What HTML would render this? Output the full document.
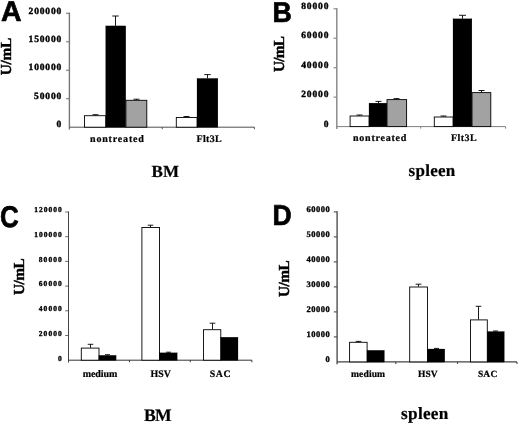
<!DOCTYPE html>
<html><head><meta charset="utf-8"><title>Figure</title>
<style>html,body{margin:0;padding:0;background:#fff}svg{display:block}</style>
</head><body>
<svg width="520" height="426" viewBox="0 0 520 426">
<defs><filter id="soft" x="0" y="0" width="520" height="426" filterUnits="userSpaceOnUse"><feGaussianBlur stdDeviation="0.38"/></filter></defs>
<rect width="520" height="426" fill="#fff"/>
<g filter="url(#soft)">
<g font-family="'Liberation Serif', serif" font-weight="bold" fill="#000" stroke="#000" stroke-width="0.22" text-rendering="geometricPrecision">
<path d="M69.4 12.600000000000001V129.6" stroke="#777" stroke-width="1.4" fill="none"/>
<path d="M69.4 127.2H254.4" stroke="#505050" stroke-width="1.0" fill="none"/>
<text x="61.30" y="127.41" font-size="9.5" text-anchor="end" stroke-width="0.4">0</text>
<path d="M66.10000000000001 98.72H69.4" stroke="#777" stroke-width="1.12"/>
<text x="61.30" y="98.94" font-size="9.5" text-anchor="end" textLength="27.2" lengthAdjust="spacing" stroke-width="0.4">50000</text>
<path d="M66.10000000000001 70.25H69.4" stroke="#777" stroke-width="1.12"/>
<text x="61.30" y="70.46" font-size="9.5" text-anchor="end" textLength="32.7" lengthAdjust="spacing" stroke-width="0.4">100000</text>
<path d="M66.10000000000001 41.77H69.4" stroke="#777" stroke-width="1.12"/>
<text x="61.30" y="41.99" font-size="9.5" text-anchor="end" textLength="32.7" lengthAdjust="spacing" stroke-width="0.4">150000</text>
<path d="M66.10000000000001 13.30H69.4" stroke="#777" stroke-width="1.12"/>
<text x="61.30" y="13.51" font-size="9.5" text-anchor="end" textLength="32.7" lengthAdjust="spacing" stroke-width="0.4">200000</text>
<path d="M162.2 127.2V129.2" stroke="#505050" stroke-width="1.0"/>
<path d="M254.4 127.2V129.2" stroke="#505050" stroke-width="1.0"/>
<rect x="84.50" y="115.70" width="21.30" height="11.50" fill="#fff" stroke="#000" stroke-width="0.9"/>
<rect x="105.70" y="25.90" width="20.10" height="101.50" fill="#000"/>
<rect x="125.90" y="100.30" width="20.90" height="26.90" fill="#a2a2a2" stroke="#000" stroke-width="0.9"/>
<rect x="176.30" y="117.50" width="20.80" height="9.70" fill="#fff" stroke="#000" stroke-width="0.9"/>
<rect x="197.00" y="78.40" width="20.90" height="49.00" fill="#000"/>
<path d="M115.50 25.90V16.00M112.25 16.00H118.75" stroke="#000" stroke-width="0.9" fill="none"/>
<path d="M136.50 100.00V99.20M133.50 99.20H139.50" stroke="#000" stroke-width="0.9" fill="none"/>
<path d="M95.50 115.40V114.70M92.50 114.70H98.50" stroke="#000" stroke-width="0.9" fill="none"/>
<path d="M186.50 117.20V116.50M183.50 116.50H189.50" stroke="#000" stroke-width="0.9" fill="none"/>
<path d="M207.50 78.40V74.60M204.25 74.60H210.75" stroke="#000" stroke-width="0.9" fill="none"/>
<text x="90.00" y="141.50" font-size="10" text-anchor="start" textLength="53.9" lengthAdjust="spacing">nontreated</text>
<text x="196.60" y="141.50" font-size="10" text-anchor="start" textLength="25.1" lengthAdjust="spacing">Flt3L</text>
<text x="151.60" y="176.60" font-size="17.0" text-anchor="start" textLength="27.4" lengthAdjust="spacing">BM</text>
<path d="M336.8 8.05V129.0" stroke="#8c8c8c" stroke-width="1.5" fill="none"/>
<path d="M336.8 126.6H505.6" stroke="#808080" stroke-width="1.0" fill="none"/>
<text x="328.50" y="126.61" font-size="9.5" text-anchor="end" stroke-width="0.4">0</text>
<path d="M333.5 97.15H336.8" stroke="#8c8c8c" stroke-width="1.20"/>
<text x="328.50" y="97.16" font-size="9.5" text-anchor="end" textLength="27.3" lengthAdjust="spacing" stroke-width="0.4">20000</text>
<path d="M333.5 67.70H336.8" stroke="#8c8c8c" stroke-width="1.20"/>
<text x="328.50" y="67.71" font-size="9.5" text-anchor="end" textLength="27.3" lengthAdjust="spacing" stroke-width="0.4">40000</text>
<path d="M333.5 38.25H336.8" stroke="#8c8c8c" stroke-width="1.20"/>
<text x="328.50" y="38.26" font-size="9.5" text-anchor="end" textLength="27.3" lengthAdjust="spacing" stroke-width="0.4">60000</text>
<path d="M333.5 8.80H336.8" stroke="#8c8c8c" stroke-width="1.20"/>
<text x="328.50" y="8.81" font-size="9.5" text-anchor="end" textLength="27.3" lengthAdjust="spacing" stroke-width="0.4">80000</text>
<path d="M420.7 126.6V128.6" stroke="#808080" stroke-width="1.0"/>
<path d="M505.6 126.6V128.6" stroke="#808080" stroke-width="1.0"/>
<rect x="350.10" y="116.00" width="19.00" height="10.60" fill="#fff" stroke="#000" stroke-width="0.9"/>
<rect x="369.00" y="103.10" width="17.90" height="23.70" fill="#000"/>
<rect x="387.00" y="99.60" width="19.60" height="27.00" fill="#a2a2a2" stroke="#000" stroke-width="0.9"/>
<rect x="434.30" y="117.00" width="18.80" height="9.60" fill="#fff" stroke="#000" stroke-width="0.9"/>
<rect x="453.00" y="18.80" width="18.90" height="108.00" fill="#000"/>
<rect x="472.00" y="92.60" width="18.80" height="34.00" fill="#a2a2a2" stroke="#000" stroke-width="0.9"/>
<path d="M359.50 115.70V115.00M356.50 115.00H362.50" stroke="#000" stroke-width="0.9" fill="none"/>
<path d="M378.50 103.10V101.40M375.50 101.40H381.50" stroke="#000" stroke-width="0.9" fill="none"/>
<path d="M396.50 99.30V98.60M393.50 98.60H399.50" stroke="#000" stroke-width="0.9" fill="none"/>
<path d="M443.50 116.70V116.00M440.50 116.00H446.50" stroke="#000" stroke-width="0.9" fill="none"/>
<path d="M462.50 18.80V15.30M459.00 15.30H466.00" stroke="#000" stroke-width="0.9" fill="none"/>
<path d="M481.50 92.30V90.50M478.50 90.50H484.50" stroke="#000" stroke-width="0.9" fill="none"/>
<text x="353.00" y="141.00" font-size="10" text-anchor="start" textLength="53.3" lengthAdjust="spacing">nontreated</text>
<text x="451.00" y="141.00" font-size="10" text-anchor="start" textLength="25.7" lengthAdjust="spacing">Flt3L</text>
<text x="408.60" y="175.90" font-size="17" text-anchor="start" textLength="46.7" lengthAdjust="spacing">spleen</text>
<path d="M68.5 211.5V362.59999999999997" stroke="#444" stroke-width="1.0" fill="none"/>
<path d="M68.5 360.2H251.9" stroke="#333" stroke-width="1.0" fill="none"/>
<text x="61.70" y="360.54" font-size="7.5" text-anchor="end" stroke-width="0.33">0</text>
<path d="M65.2 335.50H68.5" stroke="#444" stroke-width="0.80"/>
<text x="61.70" y="335.84" font-size="7.5" text-anchor="end" textLength="22.9" lengthAdjust="spacing" stroke-width="0.33">20000</text>
<path d="M65.2 310.80H68.5" stroke="#444" stroke-width="0.80"/>
<text x="61.70" y="311.14" font-size="7.5" text-anchor="end" textLength="22.9" lengthAdjust="spacing" stroke-width="0.33">40000</text>
<path d="M65.2 286.10H68.5" stroke="#444" stroke-width="0.80"/>
<text x="61.70" y="286.44" font-size="7.5" text-anchor="end" textLength="22.9" lengthAdjust="spacing" stroke-width="0.33">60000</text>
<path d="M65.2 261.40H68.5" stroke="#444" stroke-width="0.80"/>
<text x="61.70" y="261.74" font-size="7.5" text-anchor="end" textLength="22.9" lengthAdjust="spacing" stroke-width="0.33">80000</text>
<path d="M65.2 236.70H68.5" stroke="#444" stroke-width="0.80"/>
<text x="61.70" y="237.03" font-size="7.5" text-anchor="end" textLength="27.4" lengthAdjust="spacing" stroke-width="0.33">100000</text>
<path d="M65.2 212.00H68.5" stroke="#444" stroke-width="0.80"/>
<text x="61.70" y="212.34" font-size="7.5" text-anchor="end" textLength="27.4" lengthAdjust="spacing" stroke-width="0.33">120000</text>
<path d="M129.4 360.2V362.2" stroke="#333" stroke-width="1.0"/>
<path d="M190.3 360.2V362.2" stroke="#333" stroke-width="1.0"/>
<path d="M251.9 360.2V362.2" stroke="#333" stroke-width="1.0"/>
<rect x="81.30" y="348.10" width="17.70" height="12.10" fill="#fff" stroke="#000" stroke-width="0.9"/>
<rect x="98.90" y="355.30" width="17.20" height="5.10" fill="#000"/>
<rect x="141.90" y="227.50" width="17.60" height="132.70" fill="#fff" stroke="#000" stroke-width="0.9"/>
<rect x="159.40" y="352.80" width="17.80" height="7.60" fill="#000"/>
<rect x="203.50" y="329.70" width="17.30" height="30.50" fill="#fff" stroke="#000" stroke-width="0.9"/>
<rect x="220.70" y="337.20" width="17.30" height="23.20" fill="#000"/>
<path d="M90.50 347.80V344.30M87.70 344.30H93.30" stroke="#000" stroke-width="0.9" fill="none"/>
<path d="M107.50 355.30V354.70M105.00 354.70H110.00" stroke="#000" stroke-width="0.9" fill="none"/>
<path d="M150.50 227.20V225.20M147.70 225.20H153.30" stroke="#000" stroke-width="0.9" fill="none"/>
<path d="M168.50 352.80V352.20M166.00 352.20H171.00" stroke="#000" stroke-width="0.9" fill="none"/>
<path d="M212.50 329.40V323.20M209.70 323.20H215.30" stroke="#000" stroke-width="0.9" fill="none"/>
<text x="82.70" y="376.90" font-size="10.0" text-anchor="start" textLength="34.6" lengthAdjust="spacing">medium</text>
<text x="150.50" y="376.50" font-size="9.9" text-anchor="start" textLength="20.5" lengthAdjust="spacing">HSV</text>
<text x="209.80" y="376.50" font-size="9.9" text-anchor="start" textLength="20.9" lengthAdjust="spacing">SAC</text>
<text x="143.90" y="420.50" font-size="17.6" text-anchor="start" textLength="27.8" lengthAdjust="spacing">BM</text>
<path d="M337.1 211.20000000000002V364.29999999999995" stroke="#505050" stroke-width="1.4" fill="none"/>
<path d="M337.1 361.9H517.0" stroke="#444" stroke-width="1.1" fill="none"/>
<text x="329.80" y="362.17" font-size="8.5" text-anchor="end" stroke-width="0.33">0</text>
<path d="M333.8 336.90H337.1" stroke="#505050" stroke-width="1.12"/>
<text x="329.80" y="337.17" font-size="8.5" text-anchor="end" textLength="23.3" lengthAdjust="spacing" stroke-width="0.33">10000</text>
<path d="M333.8 311.90H337.1" stroke="#505050" stroke-width="1.12"/>
<text x="329.80" y="312.17" font-size="8.5" text-anchor="end" textLength="23.3" lengthAdjust="spacing" stroke-width="0.33">20000</text>
<path d="M333.8 286.90H337.1" stroke="#505050" stroke-width="1.12"/>
<text x="329.80" y="287.17" font-size="8.5" text-anchor="end" textLength="23.3" lengthAdjust="spacing" stroke-width="0.33">30000</text>
<path d="M333.8 261.90H337.1" stroke="#505050" stroke-width="1.12"/>
<text x="329.80" y="262.17" font-size="8.5" text-anchor="end" textLength="23.3" lengthAdjust="spacing" stroke-width="0.33">40000</text>
<path d="M333.8 236.90H337.1" stroke="#505050" stroke-width="1.12"/>
<text x="329.80" y="237.17" font-size="8.5" text-anchor="end" textLength="23.3" lengthAdjust="spacing" stroke-width="0.33">50000</text>
<path d="M333.8 211.90H337.1" stroke="#505050" stroke-width="1.12"/>
<text x="329.80" y="212.17" font-size="8.5" text-anchor="end" textLength="23.3" lengthAdjust="spacing" stroke-width="0.33">60000</text>
<path d="M395.8 361.9V363.9" stroke="#444" stroke-width="1.1"/>
<path d="M457.5 361.9V363.9" stroke="#444" stroke-width="1.1"/>
<path d="M517.0 361.9V363.9" stroke="#444" stroke-width="1.1"/>
<rect x="349.60" y="342.30" width="17.50" height="19.60" fill="#fff" stroke="#000" stroke-width="0.9"/>
<rect x="367.00" y="350.30" width="17.40" height="11.80" fill="#000"/>
<rect x="409.70" y="287.00" width="17.80" height="74.90" fill="#fff" stroke="#000" stroke-width="0.9"/>
<rect x="427.40" y="349.00" width="17.40" height="13.10" fill="#000"/>
<rect x="470.50" y="319.90" width="16.80" height="42.00" fill="#fff" stroke="#000" stroke-width="0.9"/>
<rect x="487.20" y="331.50" width="17.10" height="30.60" fill="#000"/>
<path d="M358.50 342.40V341.40M355.70 341.40H361.30" stroke="#000" stroke-width="0.9" fill="none"/>
<path d="M418.50 286.70V284.20M415.60 284.20H421.40" stroke="#000" stroke-width="0.9" fill="none"/>
<path d="M436.50 349.00V348.40M434.00 348.40H439.00" stroke="#000" stroke-width="0.9" fill="none"/>
<path d="M478.50 319.60V306.30M475.70 306.30H481.30" stroke="#000" stroke-width="0.9" fill="none"/>
<path d="M495.50 331.50V331.00M493.00 331.00H498.00" stroke="#000" stroke-width="0.9" fill="none"/>
<text x="351.00" y="376.50" font-size="9.6" text-anchor="start" textLength="34.1" lengthAdjust="spacing">medium</text>
<text x="418.10" y="376.60" font-size="9.5" text-anchor="start" textLength="19.6" lengthAdjust="spacing">HSV</text>
<text x="477.90" y="376.60" font-size="9.5" text-anchor="start" textLength="19.4" lengthAdjust="spacing">SAC</text>
<text x="401.10" y="418.90" font-size="17.2" text-anchor="start" textLength="47.2" lengthAdjust="spacing">spleen</text>
<text transform="translate(11.10 75.20) rotate(-90)" font-size="15.3" stroke-width="0.4" textLength="37.5" lengthAdjust="spacing">U/mL</text>
<text transform="translate(284.00 72.00) rotate(-90)" font-size="15.3" stroke-width="0.4" textLength="36.0" lengthAdjust="spacing">U/mL</text>
<text transform="translate(23.60 294.90) rotate(-90)" font-size="15.3" stroke-width="0.4" textLength="36.6" lengthAdjust="spacing">U/mL</text>
<text transform="translate(289.40 297.00) rotate(-90)" font-size="15.3" stroke-width="0.4" textLength="36.6" lengthAdjust="spacing">U/mL</text>
</g>
<g font-family="'Liberation Sans', sans-serif" font-weight="bold" fill="#000" stroke="#000" stroke-width="0.7" stroke-linejoin="round" text-rendering="geometricPrecision">
<text transform="translate(1.00 21.40) scale(1.0 1)" font-size="28.5">A</text>
<text transform="translate(272.50 21.90) scale(0.94 1)" font-size="28.4">B</text>
<text transform="translate(-0.10 226.70) scale(0.866 1)" font-size="30">C</text>
<text transform="translate(272.50 225.20) scale(0.92 1)" font-size="28.8">D</text>
</g>
</g>
</svg>
</body></html>
